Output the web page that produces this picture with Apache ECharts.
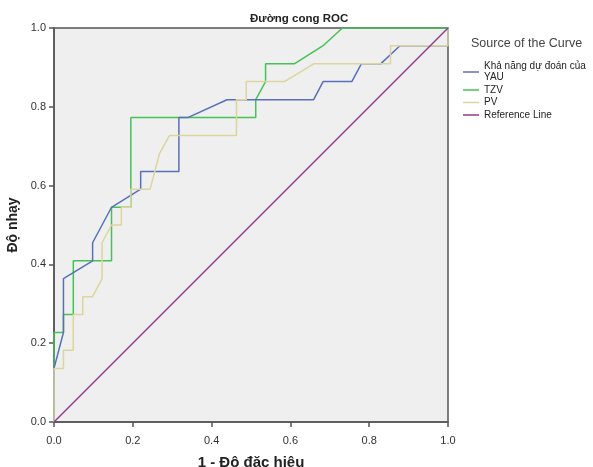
<!DOCTYPE html>
<html>
<head>
<meta charset="utf-8">
<script src="https://cdn.jsdelivr.net/npm/echarts@6/dist/echarts.min.js"></script>
<style>
  html, body { margin: 0; padding: 0; background: #fff; }
  #roc-chart { width: 593px; height: 467px; }
</style>
</head>
<body>
<div id="roc-chart"></div>
<script>
// values (x = 1 - specificity, y = sensitivity)
var yauX = [0, 0, 0.024, 0.024, 0.098, 0.098, 0.146, 0.22, 0.22, 0.317, 0.317, 0.341, 0.439, 0.659, 0.683, 0.756, 0.78, 0.829, 0.878, 1, 1];
var yauY = [0, 0.136, 0.227, 0.364, 0.409, 0.455, 0.545, 0.591, 0.636, 0.636, 0.773, 0.773, 0.818, 0.818, 0.864, 0.864, 0.909, 0.909, 0.955, 0.955, 1];

var tzvX = [0, 0, 0.024, 0.024, 0.049, 0.049, 0.146, 0.146, 0.195, 0.195, 0.512, 0.512, 0.537, 0.537, 0.61, 0.683, 0.732, 1];
var tzvY = [0, 0.227, 0.227, 0.273, 0.273, 0.409, 0.409, 0.545, 0.545, 0.773, 0.773, 0.818, 0.864, 0.909, 0.909, 0.955, 1, 1];

var pvX = [0, 0, 0.024, 0.024, 0.049, 0.049, 0.073, 0.073, 0.098, 0.122, 0.122, 0.146, 0.171, 0.171, 0.195, 0.195, 0.244, 0.268, 0.293, 0.463, 0.463, 0.488, 0.488, 0.585, 0.659, 0.854, 0.854, 1, 1];
var pvY = [0, 0.136, 0.136, 0.182, 0.182, 0.273, 0.273, 0.318, 0.318, 0.364, 0.455, 0.5, 0.5, 0.545, 0.545, 0.591, 0.591, 0.682, 0.727, 0.727, 0.818, 0.818, 0.864, 0.864, 0.909, 0.909, 0.955, 0.955, 1];

var refX = [0, 1];
var refY = [0, 1];

var seriesNames = ["Khả năng dự đoán của\nYAU", "TZV", "PV", "Reference Line"];
var axisTicks = [0, 0.2, 0.4, 0.6, 0.8, 1.0];

function pairs(xs, ys) {
    return xs.map(function (x, i) { return [x, ys[i]]; });
}

function curve(name, xs, ys, color, z) {
    return {
        name: name,
        type: "line",
        data: pairs(xs, ys),
        symbol: "none",
        z: z,
        lineStyle: { color: color, width: 1.5 },
        itemStyle: { color: color },
        animation: false,
    };
}

var myChart = echarts.init(document.getElementById("roc-chart"));
var axisCommon = {
    type: "value",
    min: axisTicks[0],
    max: axisTicks[axisTicks.length - 1],
    interval: 0.2,
    nameLocation: "middle",
    nameTextStyle: { fontFamily: "Liberation Sans", fontSize: 14, fontWeight: "bold", color: "#222" },
    axisLine: { show: true, lineStyle: { color: "#555", width: 1.5 } },
    axisTick: { show: true, length: 5, lineStyle: { color: "#555", width: 1.5 } },
    axisLabel: {
        fontFamily: "Liberation Sans",
        fontSize: 11,
        color: "#333",
        formatter: function (v) { return v.toFixed(1); },
    },
    splitLine: { show: false },
};

option = {
    backgroundColor: "#fff",
    title: [
        {
            text: "Đường cong ROC",
            left: 250,
            top: 13,
            padding: 0,
            textStyle: { fontFamily: "Liberation Sans", fontSize: 11.5, fontWeight: "bold", color: "#222" },
        },
        {
            text: "Source of the Curve",
            left: 471,
            top: 37,
            padding: 0,
            textStyle: { fontFamily: "Liberation Sans", fontSize: 12.5, fontWeight: "normal", color: "#444" },
        },
    ],
    legend: {
        orient: "vertical",
        left: 463,
        top: 61,
        padding: 0,
        itemGap: 1.5,
        itemWidth: 16,
        itemHeight: 1.5,
        icon: "rect",
        data: seriesNames,
        textStyle: { fontFamily: "Liberation Sans", fontSize: 10, lineHeight: 11, color: "#222" },
    },
    grid: {
        left: 54,
        right: 145,
        top: 28,
        bottom: 45,
        outerBoundsMode: "none",
        show: true,
        backgroundColor: "#efefef",
        borderColor: "#555",
        borderWidth: 1.5,
    },
    xAxis: Object.assign({}, axisCommon, {
        name: "1 - Độ đặc hiệu",
        nameGap: 33,
        nameTextStyle: { fontFamily: "Liberation Sans", fontSize: 15, fontWeight: "bold", color: "#222" },
        axisLabel: Object.assign({}, axisCommon.axisLabel, { margin: 13 }),
    }),
    yAxis: Object.assign({}, axisCommon, { name: "Độ nhạy", nameGap: 28 }),
    series: [
        curve(seriesNames[1], tzvX, tzvY, "#45c257", 2),
        curve(seriesNames[0], yauX, yauY, "#5870ba", 3),
        curve(seriesNames[2], pvX, pvY, "#dcd59e", 4),
        curve(seriesNames[3], refX, refY, "#8e3b8e", 5),
    ],
};
myChart.setOption(option, true);
</script>
</body>
</html>
